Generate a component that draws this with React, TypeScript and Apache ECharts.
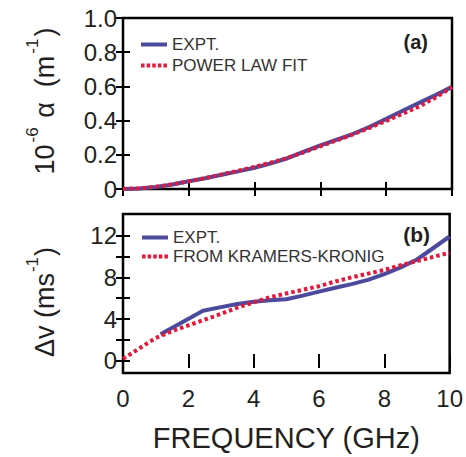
import React, { useEffect, useRef } from "react";
import * as echarts from "echarts";

// Panel (a): attenuation
const freqA = [0, 0.5, 1, 1.5, 2, 2.5, 3, 3.5, 4, 4.5, 5, 5.5, 6, 6.5, 7, 7.5, 8, 8.5, 9, 9.5, 10];
const alphaExpt = [0, 0.003, 0.012, 0.026, 0.045, 0.063, 0.083, 0.103, 0.124, 0.15, 0.18, 0.218, 0.255, 0.289, 0.323, 0.364, 0.41, 0.458, 0.504, 0.549, 0.597];
const alphaFit = [0, 0.004, 0.013, 0.027, 0.045, 0.064, 0.085, 0.107, 0.13, 0.155, 0.182, 0.215, 0.25, 0.285, 0.32, 0.358, 0.398, 0.44, 0.482, 0.535, 0.595];

// Panel (b): velocity change
const freqBExpt = [1.15, 2.45, 3, 3.5, 4, 4.5, 5, 5.5, 6, 6.5, 7, 7.5, 8, 8.5, 9, 9.5, 10];
const dvExpt = [2.55, 4.8, 5.15, 5.45, 5.67, 5.8, 5.9, 6.25, 6.63, 7.0, 7.35, 7.75, 8.3, 8.95, 9.7, 10.8, 11.9];
const freqBKK = [0, 0.5, 1, 1.5, 2, 2.5, 3, 3.5, 4, 4.5, 5, 5.5, 6, 6.5, 7, 7.5, 8, 8.5, 9, 9.5, 10];
const dvKK = [0.2, 1.2, 2.2, 2.85, 3.4, 3.95, 4.5, 5.1, 5.6, 6.1, 6.45, 6.8, 7.15, 7.6, 8.0, 8.35, 8.7, 9.15, 9.55, 9.95, 10.35];

const xTicks = [0, 2, 4, 6, 8, 10];
const dvTicks = [0, 2, 4, 6, 8, 10, 12];
const dvLabels = [0, 4, 8, 12];

const BLUE = "#4b4a9c";
const RED = "#e5173a";
const FONT = "Liberation Sans, Arial, sans-serif";

const SOLID_ICON = "path://M0 0H26V4H0Z";
const DOT_ICON =
  "path://M0 0H3.5V4H0Z M5.6 0H9.1V4H5.6Z M11.2 0H14.7V4H11.2Z M16.8 0H20.3V4H16.8Z M22.4 0H25.9V4H22.4Z";

const pairs = (xs: number[], ys: number[]) => xs.map((x, i) => [x, ys[i]]);

export default function App() {
  const ref = useRef<HTMLDivElement>(null);
  useEffect(() => {
    document.body.style.margin = "0";
    if (!ref.current) return;
    const chart = echarts.init(ref.current, undefined, { renderer: "svg" });
    const tick = { show: true, inside: true, length: 7, lineStyle: { color: "#000", width: 2 } };
    const baseX = {
      type: "value" as const,
      min: 0,
      max: 10,
      interval: 2,
      axisLine: { show: false },
      axisTick: tick,
      axisLabel: { show: false },
      splitLine: { show: false },
    };
    const gridStyle = { left: 123, right: 14, show: true, borderColor: "#000", borderWidth: 2.5, backgroundColor: "transparent" };
    const legendText = { fontSize: 17, color: "#333", fontFamily: FONT };
    chart.setOption({
      animation: false,
      backgroundColor: "#fff",
      grid: [
        { ...gridStyle, top: 18, height: 171 },
        { ...gridStyle, top: 214, height: 159 },
      ],
      xAxis: [
        { ...baseX, gridIndex: 0, position: "bottom" },
        { ...baseX, gridIndex: 0, position: "top" },
        {
          ...baseX,
          gridIndex: 1,
          position: "bottom",
          axisLabel: { show: true, fontSize: 24, color: "#231f20", fontFamily: FONT, margin: 13, customValues: xTicks },
          name: "FREQUENCY (GHz)",
          nameLocation: "middle",
          nameGap: 50,
          nameTextStyle: { fontSize: 29, color: "#231f20", fontFamily: FONT },
        },
        { ...baseX, gridIndex: 1, position: "top" },
      ],
      yAxis: [
        {
          type: "value",
          gridIndex: 0,
          position: "left",
          min: 0,
          max: 1,
          interval: 0.2,
          axisLine: { show: false },
          axisTick: tick,
          splitLine: { show: false },
          axisLabel: {
            fontSize: 24,
            color: "#231f20",
            fontFamily: FONT,
            margin: 6,
            formatter: (v: number) => (v === 0 ? "0" : v.toFixed(1)),
          },
        },
        {
          type: "value",
          gridIndex: 0,
          position: "right",
          min: 0,
          max: 1,
          interval: 0.2,
          axisLine: { show: false },
          axisTick: tick,
          splitLine: { show: false },
          axisLabel: { show: false },
        },
        {
          type: "value",
          gridIndex: 1,
          position: "left",
          min: -1.15,
          max: 14.05,
          axisLine: { show: false },
          axisTick: { ...tick, customValues: dvTicks },
          splitLine: { show: false },
          axisLabel: { fontSize: 24, color: "#231f20", fontFamily: FONT, margin: 6, customValues: dvLabels },
        },
        {
          type: "value",
          gridIndex: 1,
          position: "right",
          min: -1.15,
          max: 14.05,
          axisLine: { show: false },
          axisTick: { ...tick, customValues: dvTicks },
          splitLine: { show: false },
          axisLabel: { show: false },
        },
      ],
      legend: [
        {
          left: 136,
          top: 31,
          orient: "vertical",
          data: [
            { name: "EXPT.", icon: SOLID_ICON, itemStyle: { color: BLUE } },
            { name: "POWER LAW FIT", icon: DOT_ICON, itemStyle: { color: RED } },
          ],
          itemWidth: 26,
          itemHeight: 4,
          itemGap: 4,
          selectedMode: false,
          textStyle: legendText,
        },
        {
          left: 137,
          top: 224,
          orient: "vertical",
          data: [
            { name: "EXPT.", icon: SOLID_ICON, itemStyle: { color: BLUE } },
            { name: "FROM KRAMERS-KRONIG", icon: DOT_ICON, itemStyle: { color: RED } },
          ],
          itemWidth: 26,
          itemHeight: 4,
          itemGap: 2,
          selectedMode: false,
          textStyle: legendText,
        },
      ],
      series: [
        {
          name: "EXPT.",
          type: "line",
          xAxisIndex: 0,
          yAxisIndex: 0,
          data: pairs(freqA, alphaExpt),
          showSymbol: false,
          symbol: "none",
          lineStyle: { color: BLUE, width: 4 },
          itemStyle: { color: BLUE },
        },
        {
          name: "POWER LAW FIT",
          type: "line",
          xAxisIndex: 0,
          yAxisIndex: 0,
          data: pairs(freqA, alphaFit),
          showSymbol: false,
          symbol: "none",
          lineStyle: { color: RED, width: 4, type: [3.5, 3], cap: "butt" },
          itemStyle: { color: RED },
        },
        {
          name: "EXPT.",
          type: "line",
          xAxisIndex: 2,
          yAxisIndex: 2,
          data: pairs(freqBExpt, dvExpt),
          showSymbol: false,
          symbol: "none",
          lineStyle: { color: BLUE, width: 4 },
          itemStyle: { color: BLUE },
        },
        {
          name: "FROM KRAMERS-KRONIG",
          type: "line",
          xAxisIndex: 2,
          yAxisIndex: 2,
          data: pairs(freqBKK, dvKK),
          showSymbol: false,
          symbol: "none",
          lineStyle: { color: RED, width: 4, type: [3.5, 3], cap: "butt" },
          itemStyle: { color: RED },
        },
      ],
      graphic: [
        {
          type: "text",
          x: 41,
          y: 101,
          rotation: Math.PI / 2,
          style: {
            text: "{b|10}{s|-6}{b| α  (m}{s|-1}{b|)}",
            align: "center",
            verticalAlign: "middle",
            fill: "#231f20",
            rich: {
              b: { fontSize: 27, fontFamily: FONT, fill: "#231f20", lineHeight: 34, verticalAlign: "bottom" },
              s: { fontSize: 17, fontFamily: FONT, fill: "#231f20", lineHeight: 34, verticalAlign: "top", padding: [0, 2, 0, 2] },
            },
          },
        },
        {
          type: "text",
          x: 41,
          y: 302,
          rotation: Math.PI / 2,
          style: {
            text: "{b|Δv (ms}{s|-1}{b|)}",
            align: "center",
            verticalAlign: "middle",
            fill: "#231f20",
            rich: {
              b: { fontSize: 27, fontFamily: FONT, fill: "#231f20", lineHeight: 34, verticalAlign: "bottom" },
              s: { fontSize: 17, fontFamily: FONT, fill: "#231f20", lineHeight: 34, verticalAlign: "top", padding: [0, 1, 0, 1] },
            },
          },
        },
        {
          type: "text",
          x: 428,
          y: 42,
          style: { text: "(a)", align: "right", verticalAlign: "middle", fontSize: 20, fontWeight: "bold", fontFamily: FONT, fill: "#231f20" },
        },
        {
          type: "text",
          x: 430,
          y: 234,
          style: { text: "(b)", align: "right", verticalAlign: "middle", fontSize: 21, fontWeight: "bold", fontFamily: FONT, fill: "#231f20" },
        },
      ],
    });
    return () => chart.dispose();
  }, []);
  return <div ref={ref} style={{ width: 466, height: 457 }} />;
}
